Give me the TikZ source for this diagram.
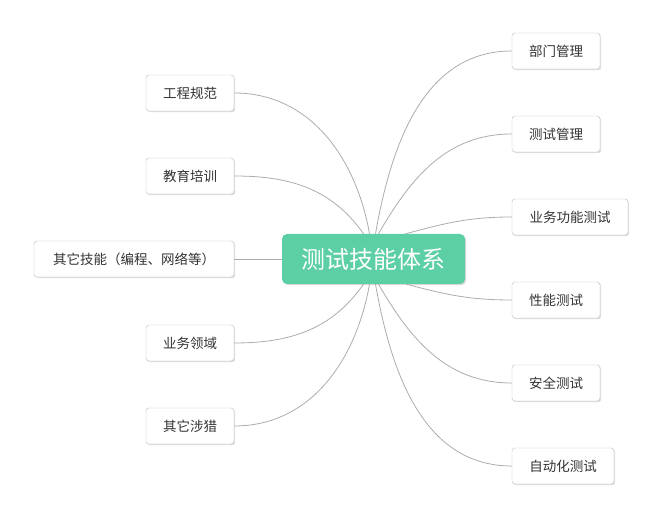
\documentclass[tikz,border=0pt]{standalone}
\usepackage{fontspec}
\setmainfont{Noto Sans CJK SC}
\usetikzlibrary{shadows,calc}
\definecolor{mainc}{RGB}{92,207,164}
\definecolor{linec}{RGB}{172,172,172}
\definecolor{boxc}{RGB}{190,190,190}
\definecolor{txtc}{RGB}{51,51,51}
\begin{document}
\begin{tikzpicture}[x=1pt,y=1pt,
 leaf/.style={draw=boxc, fill=white, rounded corners=3pt, minimum height=36pt, inner sep=0pt,
   text=txtc, font=\fontsize{13.5}{16}\selectfont,
   drop shadow={shadow xshift=1.2pt, shadow yshift=-1.2pt, opacity=0.25}},
 hub/.style={fill=mainc, draw=none, rounded corners=5pt, minimum width=183pt, minimum height=50pt,
   inner sep=0pt, text=white, font=\fontsize{24}{28}\selectfont,
   drop shadow={shadow xshift=1.2pt, shadow yshift=-1.2pt, opacity=0.3}},
 conn/.style={draw=linec, line width=0.8pt}]
\useasboundingbox (0,0) rectangle (662,518);
\node[hub] (c) at (373.5,259) {测试技能体系};
\node[leaf, minimum width=88pt] (l1) at (190,425) {工程规范};
\node[leaf, minimum width=88pt] (l2) at (190,342) {教育培训};
\node[leaf, minimum width=200pt] (l3) at (134,259) {其它技能（编程、网络等）};
\node[leaf, minimum width=88pt] (l4) at (190,175) {业务领域};
\node[leaf, minimum width=88pt] (l5) at (190,92) {其它涉猎};
\node[leaf, minimum width=88pt] (r1) at (556,467) {部门管理};
\node[leaf, minimum width=88pt] (r2) at (556,384) {测试管理};
\node[leaf, minimum width=116pt] (r3) at (570,301) {业务功能测试};
\node[leaf, minimum width=88pt] (r4) at (556,218) {性能测试};
\node[leaf, minimum width=88pt] (r5) at (556,135) {安全测试};
\node[leaf, minimum width=102pt] (r6) at (563,52) {自动化测试};
\draw[conn] ($(c.north)+(-4,0)$) to[out=100,in=0] (l1.east);
\draw[conn] ($(c.north)+(-10,0)$) to[out=125,in=0] (l2.east);
\draw[conn] (c.west) -- (l3.east);
\draw[conn] ($(c.south)+(-10,0)$) to[out=-125,in=0] (l4.east);
\draw[conn] ($(c.south)+(-4,0)$) to[out=-100,in=0] (l5.east);
\draw[conn] ($(c.north)+(2,0)$) to[out=80,in=180] (r1.west);
\draw[conn] ($(c.north)+(5,0)$) to[out=60,in=180] (r2.west);
\draw[conn] ($(c.north)+(32,0)$) to[out=15,in=180] (r3.west);
\draw[conn] ($(c.south)+(33,0)$) to[out=-15,in=180] (r4.west);
\draw[conn] ($(c.south)+(5,0)$) to[out=-60,in=180] (r5.west);
\draw[conn] ($(c.south)+(2,0)$) to[out=-80,in=180] (r6.west);
\end{tikzpicture}
\end{document}
